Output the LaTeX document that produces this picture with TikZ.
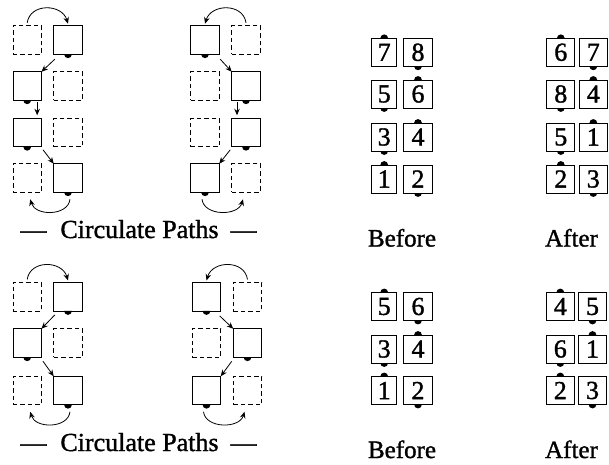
\documentclass[tikz,border=0pt]{standalone}
\usepackage{fontspec}
\setmainfont{Liberation Serif}
\newfontfamily\hvy{Liberation Serif}[FakeBold=1.3]
\usetikzlibrary{arrows.meta}
\newcommand\mybotdot[1]{\fill ([xshift=-3.9pt]#1.south) arc[start angle=180,end angle=360,radius=3.9pt] -- cycle;}
\newcommand\mytopdot[1]{\fill ([xshift=-3.9pt]#1.north) arc[start angle=180,end angle=0,radius=3.9pt] -- cycle;}
\begin{document}
\begin{tikzpicture}[x=1pt,y=-1pt,
  every node/.style={inner sep=0pt, outer sep=0pt},
  sbox/.style={draw, line width=0.9pt, fill=white, minimum width=28.5pt, minimum height=28.5pt},
  dbox/.style={sbox, dash pattern=on 4.5pt off 3pt},
  arr/.style={line width=0.8pt, -{Stealth[length=6.5pt,width=5.5pt]}},
  nbox/.style={draw, line width=0.8pt, fill=white, minimum height=28pt, font=\hvy\fontsize{26}{26}\selectfont},
  nl/.style={nbox, minimum width=25pt},
  nr/.style={nbox, minimum width=29pt},
  na/.style={nbox, minimum width=28pt},
  lbl/.style={font=\hvy\fontsize{25}{25}\selectfont, anchor=base},
  cpl/.style={font=\hvy\fontsize{26}{26}\selectfont, anchor=base},
]
\useasboundingbox (0,0) rectangle (609,464);

% ---------- top left ----------
\node[dbox] (a11) at (27.2,40) {};
\node[sbox] (a12) at (68,40) {};
\node[sbox] (a21) at (27.2,86) {};
\node[dbox] (a22) at (68,86) {};
\node[sbox] (a31) at (27.2,132.5) {};
\node[dbox] (a32) at (68,132.5) {};
\node[dbox] (a41) at (27.2,178) {};
\node[sbox] (a42) at (68,178) {};
\mybotdot{a12}\mybotdot{a21}\mybotdot{a31}\mybotdot{a42}
\draw[arr] ([yshift=3pt]a11.north) .. controls +(3,-20) and +(-6,-20) .. ([yshift=2pt]a12.north);
\draw[arr] ([xshift=1pt,yshift=-5pt]a12.south west) -- (a21.north east);
\draw[arr] ([xshift=10pt,yshift=-2pt]a21.south) -- ([xshift=10pt,yshift=3pt]a31.north);
\draw[arr] ([xshift=1.5pt,yshift=-3pt]a31.south east) -- (a42.north west);
\draw[arr] ([xshift=2pt,yshift=-7pt]a42.south) .. controls +(-2,17) and +(5,17) .. ([xshift=3pt,yshift=-7pt]a41.south);

% ---------- top right ----------
\node[sbox] (b11) at (205,40) {};
\node[dbox] (b12) at (246,40) {};
\node[dbox] (b21) at (205,86) {};
\node[sbox] (b22) at (246,86) {};
\node[dbox] (b31) at (205,132.5) {};
\node[sbox] (b32) at (246,132.5) {};
\node[sbox] (b41) at (205,178) {};
\node[dbox] (b42) at (246,178) {};
\mybotdot{b11}\mybotdot{b22}\mybotdot{b32}\mybotdot{b41}
\draw[arr] ([yshift=3pt]b12.north) .. controls +(-3,-20) and +(6,-20) .. ([yshift=2pt]b11.north);
\draw[arr] ([xshift=1pt,yshift=-5pt]b11.south east) -- (b22.north west);
\draw[arr] ([xshift=-9pt,yshift=-2pt]b22.south) -- ([xshift=-9pt,yshift=3pt]b32.north);
\draw[arr] ([xshift=-1.5pt,yshift=-3pt]b32.south west) -- (b41.north east);
\draw[arr] ([xshift=-3pt,yshift=-7pt]b41.south) .. controls +(2,17) and +(-5,17) .. ([xshift=-3pt,yshift=-7pt]b42.south);

\node[cpl] (cp1) at (138.5,238) {—\hspace{14pt}Circulate Paths\hspace{12pt}—};

% ---------- bottom left ----------
\node[dbox] (c11) at (27.2,296.7) {};
\node[sbox] (c12) at (68,296.7) {};
\node[sbox] (c21) at (27.2,343) {};
\node[dbox] (c22) at (68,343) {};
\node[dbox] (c31) at (27.2,390.5) {};
\node[sbox] (c32) at (68,390.5) {};
\mybotdot{c12}\mybotdot{c21}\mybotdot{c32}
\draw[arr] ([yshift=3pt]c11.north) .. controls +(3,-20) and +(-6,-20) .. ([yshift=2pt]c12.north);
\draw[arr] ([xshift=1pt,yshift=-4pt]c12.south west) -- (c21.north east);
\draw[arr] ([xshift=1.5pt,yshift=-4pt]c21.south east) -- (c32.north west);
\draw[arr] ([xshift=2pt,yshift=-7pt]c32.south) .. controls +(-2,17) and +(5,17) .. ([xshift=3pt,yshift=-7pt]c31.south);

% ---------- bottom right ----------
\node[sbox] (d11) at (206.5,296.7) {};
\node[dbox] (d12) at (247.5,296.7) {};
\node[dbox] (d21) at (206.5,343) {};
\node[sbox] (d22) at (247.5,343) {};
\node[sbox] (d31) at (206.5,390.5) {};
\node[dbox] (d32) at (247.5,390.5) {};
\mybotdot{d11}\mybotdot{d22}\mybotdot{d31}
\draw[arr] ([yshift=3pt]d12.north) .. controls +(-3,-20) and +(6,-20) .. ([yshift=2pt]d11.north);
\draw[arr] ([xshift=-1pt,yshift=-5pt]d11.south east) -- (d22.north west);
\draw[arr] ([xshift=-1.5pt,yshift=-4pt]d22.south west) -- (d31.north east);
\draw[arr] ([xshift=-3pt,yshift=-7pt]d31.south) .. controls +(2,17) and +(-5,17) .. ([xshift=-3pt,yshift=-7pt]d32.south);

\node[cpl] (cp2) at (138.5,451) {—\hspace{14pt}Circulate Paths\hspace{12pt}—};

% ---------- top before / after ----------
\node[nl] (tb7) at (384.2,52.3) {7};
\node[nr] (tb8) at (418,52.3) {8};
\node[nl] (tb5) at (384.2,94) {5};
\node[nr] (tb6) at (418,94) {6};
\node[nl] (tb3) at (384.2,137) {3};
\node[nr] (tb4) at (418,137) {4};
\node[nl] (tb1) at (384.2,179) {1};
\node[nr] (tb2) at (418,179) {2};
\mytopdot{tb7}\mybotdot{tb8}\mybotdot{tb5}\mytopdot{tb6}
\mybotdot{tb3}\mytopdot{tb4}\mytopdot{tb1}\mybotdot{tb2}
\node[lbl] (tbl) at (402,246.5) {Before};

\node[na] (ta6) at (560.8,52.3) {6};
\node[na] (ta7) at (593.3,52.3) {7};
\node[na] (ta8) at (560.8,94) {8};
\node[na] (ta4) at (593.3,94) {4};
\node[na] (ta5) at (560.8,137) {5};
\node[na] (ta1) at (593.3,137) {1};
\node[na] (ta2) at (560.8,179) {2};
\node[na] (ta3) at (593.3,179) {3};
\mytopdot{ta6}\mybotdot{ta7}\mybotdot{ta8}\mytopdot{ta4}
\mybotdot{ta5}\mytopdot{ta1}\mytopdot{ta2}\mybotdot{ta3}
\node[lbl] (tal) at (571.5,246.5) {After};

% ---------- bottom before / after ----------
\node[nl] (bb5) at (384.2,306.5) {5};
\node[nr] (bb6) at (418,306.5) {6};
\node[nl] (bb3) at (384.2,349) {3};
\node[nr] (bb4) at (418,349) {4};
\node[nl] (bb1) at (384.2,390.5) {1};
\node[nr] (bb2) at (418,390.5) {2};
\mytopdot{bb5}\mybotdot{bb6}\mybotdot{bb3}\mytopdot{bb4}
\mytopdot{bb1}\mybotdot{bb2}
\node[lbl] (bbl) at (402,458) {Before};

\node[na] (ba4) at (560.3,306.5) {4};
\node[na] (ba5) at (592.5,306.5) {5};
\node[na] (ba6) at (560.3,349) {6};
\node[na] (ba1) at (592.5,349) {1};
\node[na] (ba2) at (560.3,390.5) {2};
\node[na] (ba3) at (592.5,390.5) {3};
\mytopdot{ba4}\mybotdot{ba5}\mybotdot{ba6}\mytopdot{ba1}
\mytopdot{ba2}\mybotdot{ba3}
\node[lbl] (bal) at (571.5,458) {After};
\end{tikzpicture}
\end{document}
